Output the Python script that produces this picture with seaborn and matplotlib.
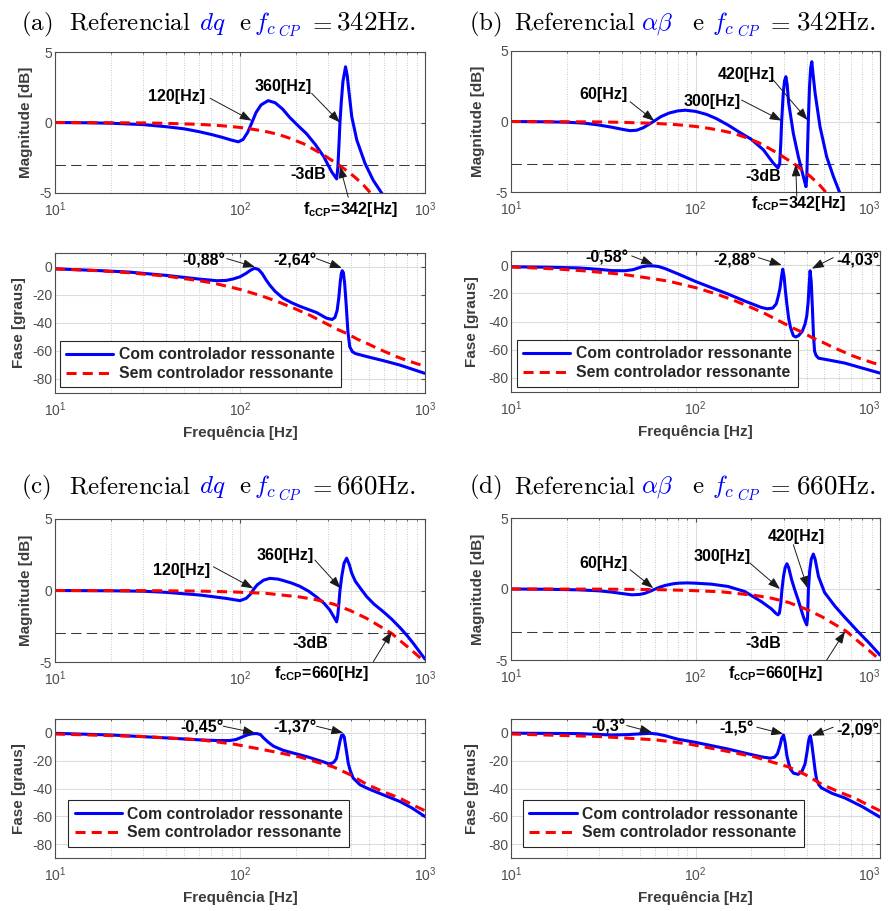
import numpy as np
import pandas as pd
import seaborn as sns
import matplotlib
matplotlib.use("Agg")
from matplotlib import pyplot as plt
from matplotlib.ticker import FixedLocator, FixedFormatter, LogLocator, NullFormatter

# valores: frequência [Hz], magnitude [dB], fase [graus]
THRESH_DB = -3

# planta sem controlador ressonante, fc = 342 Hz (igual em a e b)
red342_mag_f = [10, 20, 30, 40, 60, 80, 100, 120, 140, 160, 186, 220, 250, 283, 315, 342, 380, 420, 470, 500, 540]
red342_mag = [0, -0.02, -0.03, -0.06, -0.13, -0.23, -0.35, -0.5, -0.66, -0.83, -1.12, -1.5, -1.9, -2.3, -2.7, -3.0, -3.45, -3.9, -4.5, -4.9, -5.4]
red342_ph_f = [10, 17.5, 25, 40, 60, 72, 100, 130, 158, 200, 239, 293, 342, 378, 430, 485, 550, 621, 700, 796, 900, 1000]
red342_ph = [-1.3, -2.7, -4.1, -6.5, -9.8, -11.5, -16, -20.5, -24.5, -30, -34.5, -40.5, -45, -47.5, -51.5, -54.5, -58, -61, -64, -66.7, -69, -70.8]

# planta sem controlador ressonante, fc = 660 Hz (igual em c e d)
red660_mag_f = [10, 30, 60, 92, 139, 210, 259, 320, 394, 484, 596, 660, 733, 850, 970, 1000]
red660_mag = [0, -0.01, -0.04, -0.1, -0.2, -0.45, -0.65, -0.95, -1.4, -1.95, -2.65, -3.0, -3.5, -4.2, -4.85, -5.05]
red660_ph_f = [10, 30, 61, 92, 139, 210, 320, 393, 484, 600, 733, 850, 1000]
red660_ph = [-0.8, -2.6, -5, -8, -12.5, -17.3, -24.5, -30, -37, -42.5, -47, -51.5, -56]

# (a) dq, 342 Hz
a_mag_f = [10, 15, 20, 30, 40, 50, 60, 70, 80, 90, 98, 104, 110, 116, 122, 130, 142, 155, 170, 186, 205, 229, 255,
           283, 313, 333, 338, 343, 347, 353, 360, 372, 380, 388, 402, 428, 474, 525, 583, 620]
a_mag = [0, -0.02, -0.05, -0.15, -0.3, -0.45, -0.65, -0.85, -1.05, -1.25, -1.37, -1.2, -0.7, 0.0, 0.7, 1.25, 1.55, 1.4,
         0.95, 0.35, -0.2, -0.8, -1.55, -2.4, -3.5, -4.0, -3.2, -1.5, 0.0, 1.5, 2.9, 3.95, 3.3, 2.2, 0.4, -1.25, -2.9,
         -4.1, -5.0, -5.5]
a_ph_f = [10, 17.5, 25, 40, 60, 75, 84, 92, 100, 108, 114, 120, 126, 132, 138, 145, 155, 171, 190, 210, 259, 293, 315,
          326, 335, 342, 348, 353, 357, 362, 368, 375, 383, 392, 405, 420, 485, 600, 730, 1000]
a_ph = [-1.3, -2.6, -3.6, -6, -8.6, -9.8, -9.6, -8.5, -7, -4.5, -2.3, -0.88, -1.8, -4.8, -9, -13, -17.5, -22.3, -25.5,
        -28, -32.5, -36.5, -37.5, -36, -31, -22, -11, -4.5, -2.64, -4, -12, -27, -46, -57, -60.5, -61.8, -64, -67, -70, -76]

# (b) alfa-beta, 342 Hz
b_mag_f = [10, 15, 20, 25, 30, 35, 40, 44, 48, 52, 56, 60, 65, 72, 80, 88, 100, 115, 130, 150, 175, 200, 233, 264, 280,
           286, 290, 293, 299, 304, 309, 314, 320, 339, 361, 384, 397, 401, 405, 409, 415, 421, 427, 434, 445, 473, 514,
           559, 607, 640]
b_mag = [0, -0.02, -0.05, -0.12, -0.25, -0.4, -0.55, -0.65, -0.62, -0.45, -0.2, 0.05, 0.35, 0.6, 0.75, 0.8, 0.72, 0.5,
         0.2, -0.25, -0.8, -1.25, -2.0, -2.95, -3.3, -3.0, -1.5, 0.0, 2.0, 2.9, 3.18, 2.6, 1.3, -0.84, -2.5, -3.9, -4.62,
         -4.0, -1.8, 0.1, 2.5, 3.8, 4.24, 3.3, 2.0, -0.37, -2.5, -3.9, -5.1, -5.6]
b_ph_f = [10, 16, 23.2, 30, 35.2, 41.6, 46, 51.2, 55, 59, 63, 68.5, 80.6, 100, 122, 150, 185, 227, 245, 262, 274, 281,
          287, 292, 297, 302, 307, 313, 320, 327, 339, 349, 362, 379, 392, 401, 408, 413, 418, 424, 430, 436, 442, 450,
          464, 536, 645, 800, 1000]
b_ph = [-1.2, -1.5, -2, -3, -3.9, -4, -3.2, -1.2, -0.5, -0.58, -1, -2.5, -6.3, -11.6, -16, -20.5, -25.5, -30, -31,
        -30.5, -27.5, -22, -16.5, -9, -2.88, -8, -18, -28, -38, -44, -50, -51, -50, -47, -42, -36, -26, -14, -4.03, -12,
        -30, -50, -61, -64, -66, -67.5, -69.5, -73, -76.6]

# (c) dq, 660 Hz
c_mag_f = [10, 20, 30, 40, 61, 84, 100, 108, 114, 118, 124, 134, 145, 160, 171, 190, 210, 235, 259, 285, 306, 320, 333,
           338, 343, 347, 355, 365, 377, 390, 402, 420, 445, 484, 530, 596, 660, 733, 800, 865, 930, 1000]
c_mag = [0, -0.02, -0.05, -0.13, -0.32, -0.55, -0.71, -0.55, -0.25, 0.05, 0.4, 0.72, 0.85, 0.8, 0.7, 0.52, 0.3, -0.05,
         -0.45, -0.9, -1.37, -1.8, -2.19, -1.7, -0.8, 0.0, 1.0, 1.9, 2.26, 1.8, 1.2, 0.65, 0.2, -0.43, -0.95, -1.49,
         -2.0, -2.6, -3.15, -3.7, -4.25, -4.8]
c_ph_f = [10, 20, 40, 60, 75, 88, 95, 100, 106, 111, 117, 123, 129, 134, 143, 152, 171, 190, 210, 235, 259, 285, 300,
          312, 322, 332, 340, 347, 354, 360, 366, 371, 377, 385, 393, 409, 445, 500, 596, 733, 850, 1000]
c_ph = [-0.3, -1.5, -3.6, -5, -5.5, -5.5, -4.8, -3.6, -2.2, -1.2, -0.6, -0.45, -1.2, -3.6, -7, -9.6, -12.5, -14.2,
        -15.7, -17.5, -19.3, -21, -22.2, -22, -21, -18.5, -12, -6, -1.8, -1.37, -3, -8, -14, -22, -26.5, -32.5, -37.3,
        -40.5, -44.6, -49.4, -54, -60.2]

# (d) alfa-beta, 660 Hz
d_mag_f = [10, 16, 23.2, 30, 35.2, 40, 45.2, 50, 53.3, 57, 60.5, 64, 68.5, 75, 80.6, 90, 100, 122, 150, 185, 227, 258,
           272, 280, 285, 290, 294, 300, 306, 313, 320, 332, 345, 360, 384, 395, 401, 405, 409, 416, 424, 435, 445, 464,
           501, 569, 645, 760, 880, 1000]
d_mag = [0, -0.02, -0.06, -0.13, -0.22, -0.32, -0.41, -0.38, -0.3, -0.15, 0.0, 0.13, 0.25, 0.36, 0.41, 0.43, 0.41, 0.34,
         0.18, -0.18, -0.88, -1.4, -1.7, -1.82, -1.7, -1.0, -0.06, 0.9, 1.5, 1.78, 1.5, 0.65, -0.05, -0.76, -1.94,
         -2.35, -2.53, -2.0, -0.06, 1.3, 2.1, 2.46, 2.1, 0.88, -0.25, -1.2, -2.0, -3.0, -3.85, -4.65]
d_ph_f = [10, 23.2, 35.2, 43.3, 50, 56.7, 62, 68.5, 80, 100, 150, 185, 227, 254, 268, 278, 287, 293, 300, 306, 313, 320,
          327, 340, 360, 378, 392, 402, 409, 414, 419, 426, 435, 445, 453, 467, 481, 550, 645, 800, 1000]
d_ph = [-0.2, -0.5, -1.5, -1.2, -0.7, -0.3, -0.8, -2, -4.5, -6.8, -11.6, -14.5, -17.2, -18.2, -17.5, -15, -9.2, -4,
        -1.5, -7, -16.5, -22, -26.2, -29, -29.8, -27.5, -22.5, -14, -6.8, -3.5, -2.09, -7, -16.5, -27, -33.5, -37.5,
        -39.5, -43.5, -46.8, -53, -60.6]

LEG_COM = 'Com controlador ressonante'
LEG_SEM = 'Sem controlador ressonante'

BLUE = '#0000ff'
RED = '#ff0000'
GREY = '#4d4d4d'
W, H = 889, 911

sns.set_style('white')
plt.rcParams['font.family'] = ['Liberation Sans', 'DejaVu Sans']
plt.rcParams['mathtext.fontset'] = 'custom'
plt.rcParams['mathtext.rm'] = 'Liberation Sans'
plt.rcParams['mathtext.bf'] = 'Liberation Sans:bold'
plt.rcParams['mathtext.it'] = 'Liberation Sans:italic'
plt.rcParams['axes.unicode_minus'] = False


def fbox(l, r, t, b):
    return [l / W, 1 - b / H, (r - l) / W, (b - t) / H]


def style_axis(ax, kind):
    ax.set_xscale('log')
    ax.set_xlim(10, 1000)
    if kind == 'mag':
        ax.set_ylim(-5, 5)
        ax.set_yticks([-5, 0, 5])
    else:
        ax.set_ylim(-90, 10)
        ax.set_yticks([-80, -60, -40, -20, 0])
    ax.xaxis.set_major_locator(FixedLocator([10, 100, 1000]))
    ax.xaxis.set_major_formatter(FixedFormatter([r'$10^{1}$', r'$10^{2}$', r'$10^{3}$']))
    ax.xaxis.set_minor_locator(LogLocator(base=10, subs=np.arange(2, 10)))
    ax.xaxis.set_minor_formatter(NullFormatter())
    ax.grid(True, which='major', color='#dcdcdc', lw=0.8, ls='-')
    ax.grid(True, which='minor', axis='x', color='#b8b8b8', lw=0.6, ls=(0, (1, 2)))
    ax.set_axisbelow(True)
    ax.tick_params(which='both', direction='in', top=True, right=True, color=GREY,
                   labelcolor=GREY, labelsize=10)
    ax.tick_params(which='major', length=3)
    ax.tick_params(which='minor', length=1.6)
    ax.tick_params(axis='x', pad=5)
    ax.tick_params(axis='y', pad=2)
    for s in ax.spines.values():
        s.set_color(GREY)
        s.set_linewidth(0.8)


def add_note(ax, text, pos, head=None, tail=None):
    if head is not None:
        ax.annotate('', xy=head, xytext=tail, annotation_clip=False,
                    arrowprops=dict(arrowstyle='-|>,head_length=0.6,head_width=0.22', color='#1a1a1a',
                                    lw=0.7, mutation_scale=12, shrinkA=0, shrinkB=0))
    ax.text(pos[0], pos[1], text, ha='center', va='center', fontsize=11.5,
            fontweight='bold', color='k', clip_on=False)


# posição (px, a partir do início do título) de cada parte do título
TITLE_OFFS = {'dq': [0, 48, 178, 218, 233, 257, 287, 315],
              'ab': [0, 45, 172, 223, 243, 268, 297, 327]}
TITLE_SIZES = [18, 18, 18, 18, 18, 10.5, 18, 19.5]
TITLE_DROP = [0, 0, 0, 0, 0, 6.5, 0, 0]


def colored_title(fig, x_px, y_px, pieces, offs):
    for (s, c), dx, size, dy in zip(pieces, offs, TITLE_SIZES, TITLE_DROP):
        fig.text((x_px + dx) / W, 1 - (y_px + dy) / H, s, color=c, fontsize=size, math_fontfamily='cm',
                 ha='left', va='baseline')


panels = [
    dict(tag='a', frame=r'dq', key='dq', fc=342, mag_box=(55, 425, 52, 193), ph_box=(55, 425, 253, 393),
         title=(21, 30),
         mag=(a_mag_f, a_mag), ph=(a_ph_f, a_ph),
         red_mag=(red342_mag_f, red342_mag), red_ph=(red342_ph_f, red342_ph),
         mag_notes=[('120[Hz]', (45.5, 1.81), (115.6, 0.13), (68.9, 1.72)),
                    ('360[Hz]', (171.5, 2.54), (347, 0.0), (244, 2.07)),
                    ('-3dB', (234, -3.72), None, None),
                    (r'f$_{\mathbf{cCP}}$=342[Hz]', (393.6, -6.2), (347, -3.1), (384.6, -5.3))],
         ph_notes=[('-0,88°', (63.4, 4.0), (120.5, 0.0), (84.8, 6.0)),
                   ('-2,64°', (198, 4.0), (355, -0.7), (259, 6.0))],
         leg=(0.013, 0.04), ylab=(-0.059, -0.078)),
    dict(tag='b', frame=r'\alpha\beta', key='ab', fc=342, mag_box=(511, 880, 51, 192), ph_box=(511, 880, 251, 392),
         title=(469, 30),
         mag=(b_mag_f, b_mag), ph=(b_ph_f, b_ph),
         red_mag=(red342_mag_f, red342_mag), red_ph=(red342_ph_f, red342_ph),
         mag_notes=[('60[Hz]', (31.6, 1.88), (59.8, 0.04), (44.2, 1.4)),
                    ('300[Hz]', (122.4, 1.4), (293, 0.06), (177.7, 1.52)),
                    ('420[Hz]', (189.6, 3.3), (405, 0.1), (264, 2.94)),
                    ('-3dB', (233, -3.9), None, None),
                    (r'f$_{\mathbf{cCP}}$=342[Hz]', (360, -5.8), (349, -3.04), (354, -5.3))],
         ph_notes=[('-0,58°', (33, 4.8), (59, 0.5), (45.1, 6.5)),
                   ('-2,88°', (163.7, 2.9), (293, 0.0), (219, 5.3)),
                   ('-4,03°', (762, 2.9), (427, -2.5), (558, 5.3))],
         leg=(0.0155, 0.038), ylab=(-0.070, -0.087)),
    dict(tag='c', frame=r'dq', key='dq', fc=660, mag_box=(55, 425, 519, 662), ph_box=(55, 425, 719, 858),
         title=(21, 493),
         mag=(c_mag_f, c_mag), ph=(c_ph_f, c_ph),
         red_mag=(red660_mag_f, red660_mag), red_ph=(red660_ph_f, red660_ph),
         mag_notes=[('120[Hz]', (48.4, 1.43), (118, 0.15), (71.8, 1.66)),
                    ('360[Hz]', (175, 2.48), (350, 0.15), (254, 2.13)),
                    ('-3dB', (239, -3.7), None, None),
                    (r'f$_{\mathbf{cCP}}$=660[Hz]', (276, -5.79), (660, -2.88), (525.6, -4.98))],
         ph_notes=[('-0,45°', (62.1, 3.6), (120.5, 0.0), (81.3, 4.8)),
                   ('-1,37°', (198, 3.6), (362, 0.0), (259, 4.8))],
         leg=(0.036, 0.081), ylab=(-0.059, -0.078)),
    dict(tag='d', frame=r'\alpha\beta', key='ab', fc=660, mag_box=(511, 880, 518, 660), ph_box=(511, 880, 719, 858),
         title=(469, 493),
         mag=(d_mag_f, d_mag), ph=(d_ph_f, d_ph),
         red_mag=(red660_mag_f, red660_mag), red_ph=(red660_ph_f, red660_ph),
         mag_notes=[('60[Hz]', (31.6, 1.83), (59, 0.06), (44.2, 1.36)),
                    ('300[Hz]', (138.7, 2.3), (287, 0.0), (197, 1.83)),
                    ('420[Hz]', (354, 3.7), (405, 0.06), (339, 3.12)),
                    ('-3dB', (233, -3.82), None, None),
                    (r'f$_{\mathbf{cCP}}$=660[Hz]', (270, -5.94), (646, -3.0), (514, -5.0))],
         ph_notes=[('-0,3°', (33.6, 4.1), (58, 0.5), (42.4, 5.3)),
                   ('-1,5°', (167, 2.9), (299, -0.7), (215, 4.1)),
                   ('-2,09°', (762, 1.7), (427, -2.0), (558, 4.1))],
         leg=(0.033, 0.081), ylab=(-0.070, -0.087)),
]

fig = plt.figure(figsize=(W / 100, H / 100), dpi=100)

for p in panels:
    ax_m = fig.add_axes(fbox(*p['mag_box']))
    ax_p = fig.add_axes(fbox(*p['ph_box']))

    for ax, blue, red in ((ax_m, p['mag'], p['red_mag']), (ax_p, p['ph'], p['red_ph'])):
        sns.lineplot(x=blue[0], y=blue[1], ax=ax, color=BLUE, lw=2.2, estimator=None, sort=False,
                     label=LEG_COM)
        sns.lineplot(x=red[0], y=red[1], ax=ax, color=RED, lw=2.2, estimator=None, sort=False,
                     linestyle=(0, (3.3, 2)), label=LEG_SEM)

    ax_m.axhline(THRESH_DB, color='#3a3a3a', lw=0.75, ls=(0, (10, 5)), zorder=1.5)

    style_axis(ax_m, 'mag')
    style_axis(ax_p, 'ph')
    ax_m.get_legend().remove()

    ax_m.set_ylabel('Magnitude [dB]', fontsize=11, fontweight='bold', color='#3c3c3c')
    ax_p.set_ylabel('Fase [graus]', fontsize=11, fontweight='bold', color='#3c3c3c')
    ax_m.yaxis.set_label_coords(p['ylab'][0], 0.5)
    ax_p.yaxis.set_label_coords(p['ylab'][1], 0.5)
    ax_m.set_xlabel('')
    ax_p.set_xlabel('Frequência [Hz]', fontsize=11, fontweight='bold', color='#3c3c3c')
    ax_p.xaxis.set_label_coords(0.5, -0.235)

    # o último rótulo do eixo x fica alinhado à direita para não sair da figura
    if p['mag_box'][1] > 850:
        for lab in (ax_m.get_xticklabels()[-1], ax_p.get_xticklabels()[-1]):
            lab.set_horizontalalignment('right')

    for text, pos, head, tail in p['mag_notes']:
        add_note(ax_m, text, pos, head, tail)
    for text, pos, head, tail in p['ph_notes']:
        add_note(ax_p, text, pos, head, tail)

    leg = ax_p.legend(loc='lower left', bbox_to_anchor=p['leg'], borderaxespad=0, frameon=True,
                      fancybox=False, framealpha=1, edgecolor='#262626',
                      prop={'weight': 'bold', 'size': 11.3}, handlelength=3.0, handletextpad=0.35,
                      borderpad=0.4, labelspacing=0.25)
    leg.get_frame().set_linewidth(0.8)

    colored_title(fig, p['title'][0], p['title'][1], [
        (r'$\mathrm{(' + p['tag'] + r')}$', 'k'),
        (r'$\mathrm{Referencial}$', 'k'),
        (r'$' + p['frame'] + r'$', BLUE),
        (r'$\mathrm{e}$', 'k'),
        (r'$f_{c}$', BLUE),
        (r'$CP$', BLUE),
        (r'$\mathrm{=}$', 'k'),
        (r'$\mathrm{' + str(p['fc']) + r'Hz.}$', 'k'),
    ], TITLE_OFFS[p['key']])

fig.savefig('out.png', dpi=100)
